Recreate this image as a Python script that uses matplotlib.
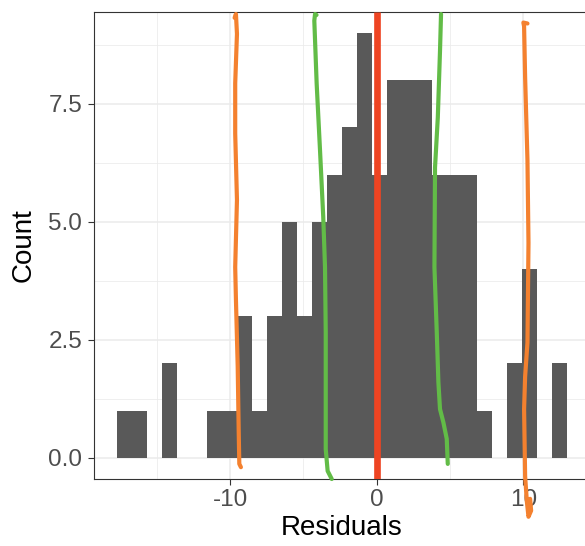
import numpy as np
import matplotlib
matplotlib.use("Agg")
import matplotlib.pyplot as plt

plt.rcParams['font.family'] = ['Liberation Sans', 'DejaVu Sans']
plt.rcParams['axes.unicode_minus'] = False

# Histogram data (30 bins)
bin_lo = -17.76
bin_hi = 13.02
counts = [1, 1, 0, 2, 0, 0, 1, 1, 3, 1,
          3, 5, 3, 5, 6, 7, 9, 6, 8, 8,
          8, 6, 6, 6, 1, 0, 2, 4, 0, 2]

x_ticks = [-10, 0, 10]
x_ticklabels = ["-10", "0", "10"]
y_ticks = [0.0, 2.5, 5.0, 7.5]
y_ticklabels = ["0.0", "2.5", "5.0", "7.5"]

# Hand-drawn annotation strokes (x, y in data units)
orange_left_x = [-9.70, -9.61, -9.54, -9.66, -9.66, -9.54, -9.66, -9.61, -9.49, -9.42, -9.38, -9.27]
orange_left_y = [9.32, 9.40, 8.98, 7.93, 6.87, 5.46, 4.04, 3.35, 1.94, 0.54, -0.13, -0.20]

green_left_x = [-4.11, -4.21, -4.26, -4.10, -3.87, -3.65, -3.53, -3.48, -3.48, -3.48, -3.35, -3.07]
green_left_y = [9.38, 9.40, 9.26, 7.93, 6.51, 5.10, 4.04, 2.65, 1.24, 0.18, -0.28, -0.45]

green_right_x = [4.39, 4.32, 4.17, 3.98, 3.94, 4.10, 4.21, 4.32, 4.55, 4.78, 4.85]
green_right_y = [9.40, 8.62, 7.21, 6.15, 4.04, 2.65, 1.60, 1.03, 0.75, 0.40, -0.13]

orange_right_x = [10.29, 10.01, 10.06, 10.13, 10.29, 10.36, 10.29, 10.13, 10.06, 10.13, 10.25, 10.36, 10.54, 10.47]
orange_right_y = [9.20, 9.22, 9.14, 8.06, 6.30, 4.55, 2.44, 1.72, 1.03, -0.39, -0.93, -1.25, -1.12, -0.87]

zero_line = 0.0

fig = plt.figure(figsize=(5.85, 5.46), dpi=100)
ax = fig.add_axes([94/585, 1-479/546, (590-94)/585, (479-11.7)/546])

edges = np.linspace(bin_lo, bin_hi, len(counts) + 1)
ax.bar(edges[:-1], counts, width=np.diff(edges), align='edge',
       color='#595959', edgecolor='none', zorder=2)

ax.axvline(zero_line, color='#EE4422', lw=4.8, zorder=3, solid_capstyle='butt')

kw = dict(lw=3.0, solid_capstyle='round', solid_joinstyle='round', zorder=5, clip_on=False)
ax.plot(orange_left_x, orange_left_y, color='#F4812F', **kw)
ax.plot(green_left_x, green_left_y, color='#62BC47', **kw)
ax.plot(green_right_x, green_right_y, color='#62BC47', **kw)
ax.plot(orange_right_x, orange_right_y, color='#F4812F', **kw)

span = bin_hi - bin_lo
ax.set_xlim(bin_lo - 0.05 * span, bin_hi + 0.05 * span)
ax.set_ylim(-0.45, 9.45)

ax.set_xticks(x_ticks)
ax.set_xticklabels(x_ticklabels)
ax.set_yticks(y_ticks)
ax.set_yticklabels(y_ticklabels)
ax.set_xticks([-15, -5, 5], minor=True)
ax.set_yticks([1.25, 3.75, 6.25, 8.75], minor=True)

ax.grid(which='major', color='#EBEBEB', lw=1.1, zorder=0)
ax.grid(which='minor', color='#EBEBEB', lw=0.55, zorder=0)
ax.set_axisbelow(True)

ax.tick_params(which='major', length=4.5, width=0.8, color='#333333',
               labelsize=17.5, labelcolor='#4D4D4D')
ax.tick_params(axis='x', which='major', pad=2.5)
ax.tick_params(axis='y', which='major', pad=4)
ax.tick_params(which='minor', length=0)

for s in ax.spines.values():
    s.set_color('#333333')
    s.set_linewidth(0.8)

ax.set_xlabel('Residuals', fontsize=20, color='black', labelpad=3)
ax.set_ylabel('Count', fontsize=20, color='black', labelpad=8)

fig.savefig('out.png', dpi=100)
